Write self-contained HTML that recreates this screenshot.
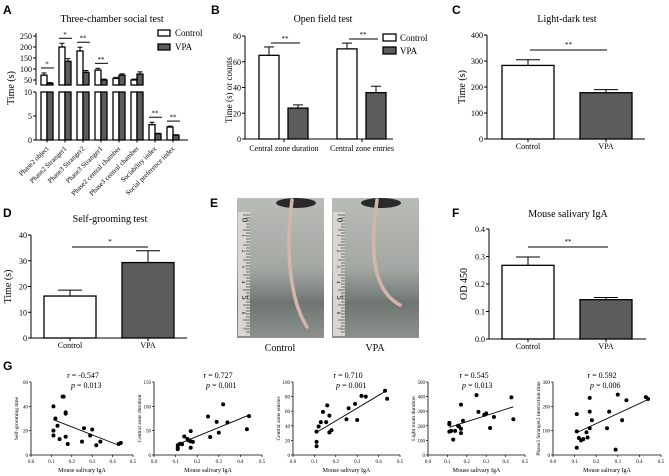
<!DOCTYPE html>
<html><head><meta charset="utf-8"><style>
html,body{margin:0;padding:0;background:#fff;}
svg{display:block;font-family:"Liberation Serif",serif;}
.pl{font-family:"Liberation Sans",sans-serif;font-weight:bold;font-size:12px;}
</style></head><body>
<svg id="fig" width="669" height="476" viewBox="0 0 669 476" xmlns="http://www.w3.org/2000/svg">
<defs>
<linearGradient id="bg1" x1="0" y1="0" x2="0" y2="1">
<stop offset="0" stop-color="#b9bcb7"/><stop offset="0.5" stop-color="#a4a8a3"/><stop offset="0.75" stop-color="#6f7672"/><stop offset="1" stop-color="#8d918d"/>
</linearGradient>
</defs>
<g id="root"></g>
</svg>
<script>
// ---- Panel A data ----
const aCats = ["Phase2 object","Phase2 Stranger1","Phase3 Stranger2","Phase3 Stranger1","Phase2 central chamber","Phase3 central chamber","Sociability index","Social preference index"];
const aCtrl = [72,200,182,95,57,50,3.2,2.7];
const aVpa = [35,135,85,50,72,77,1.3,1.0];
const aCtrlErr = [10,17,17,8,5,4,0.5,0.2];
const aVpaErr = [3,12,8,4,6,10,0.1,0.1];
const aSig = ["*","*","**","**","","","**","**"];
const aUpperTicks = [50,100,150,200,250];
const aLowerTicks = [0,5,10];
// ---- Panel B data ----
const bCats = ["Central zone duration","Central zone entries"];
const bCtrl = [65,70];
const bVpa = [24,36];
const bCtrlErr = [6.5,4.5];
const bVpaErr = [2.5,5];
const bTicks = [0,20,40,60,80];
// ---- Panel C ----
const cCats = ["Control","VPA"];
const cVals = [283,178];
const cErr = [22,12];
const cTicks = [0,100,200,300,400];
// ---- Panel D ----
const dCats = ["Control","VPA"];
const dVals = [16.3,29.3];
const dErr = [2.3,4.6];
const dTicks = [0,10,20,30,40];
// ---- Panel F ----
const fCats = ["Control","VPA"];
const fVals = [0.268,0.143];
const fErr = [0.03,0.008];
const fTicks = ["0.0","0.1","0.2","0.3","0.4"];
// ---- Panel G ----
const gX = [0.11,0.11,0.11,0.12,0.13,0.14,0.155,0.16,0.17,0.17,0.17,0.18,0.25,0.26,0.29,0.30,0.32,0.34,0.43,0.44];
const gY1 = [40,20,16,30,24,13,48,48,35,34,15,9,11,22,16,21,8,11,9,10];
const gY2 = [12,15,20,23,22,38,33,30,49,15,28,27,79,37,68,46,104,67,53,80];
const gY3 = [12,18,32,39,45,59,45,68,54,31,31,34,49,64,70,48,81,80,88,77];
const gY4 = [220,210,160,165,105,165,200,195,345,150,180,235,410,295,275,285,185,260,395,245];
const gY5 = [30,168,97,70,60,65,93,72,235,178,110,143,110,178,22,248,143,225,238,230];
const gFitX = [[0.11,0.43],[0.11,0.44],[0.11,0.43],[0.11,0.44],[0.11,0.44]];
const gFitY = [[29,8],[22,82],[31,87],[190,330],[92,228]];
const gR = ["r = -0.547","r = 0.727","r = 0.710","r = 0.545","r = 0.592"];
const gP = ["= 0.013","= 0.001","= 0.001","= 0.013","= 0.006"];
const gYTitles = ["Self-grooming time","Central zone duration","Central zone entries","Light room duration","Phase3 Stranger2 interaction time"];
const gYMax = [60,150,100,500,300];
const gYTicks = [[0,20,40,60],[0,50,100,150],[0,20,40,60,80,100],[0,100,200,300,400,500],[0,100,200,300]];
const gXTicks = ["0.0","0.1","0.2","0.3","0.4","0.5"];

const NS="http://www.w3.org/2000/svg";
const root=document.getElementById('root');
function el(tag,attrs,parent,txt){const e=document.createElementNS(NS,tag);for(const k in attrs)e.setAttribute(k,attrs[k]);if(txt!==undefined)e.textContent=txt;(parent||root).appendChild(e);return e;}
function grp(name){const g=el('g',{});


return g;}
function line(p,x1,y1,x2,y2,w){return el('line',{x1,y1,x2,y2,stroke:'#000','stroke-width':w||1},p);}
function txt(p,x,y,s,size,anchor,extra){const t=el('text',Object.assign({x,y,'font-size':size,'text-anchor':anchor||'middle',fill:'#000'},extra||{}),p,s);return t;}
const GRAY="#5c5c5c";
function bar(p,name,x,w,y0,y1,fill){const r=el('rect',{x,y:Math.min(y0,y1),width:w,height:Math.abs(y1-y0),fill,stroke:'#000','stroke-width':1.3},p);


return r;}
function err(p,cx,ytop,yerr,cap){line(p,cx,ytop,cx,yerr,1);line(p,cx-cap,yerr,cx+cap,yerr,1);}
function panelLabel(x,y,s){const t=el('text',{x,y,class:'pl'},root,s);

}

// ===== Panel A =====
(function(){
const g=grp('panel-a-three-chamber');
panelLabel(3,14,'A');
txt(g,112,22,'Three-chamber social test',10);
const ax=36, xEnd=188;
const yU=v=>80-(v-50)*0.22; const uBot=85;
const yL=v=>140-v*4.8; const lTop=92;
line(g,ax,33,ax,uBot,1);line(g,ax,lTop,ax,140,1);line(g,ax,140,xEnd,140,1);
aUpperTicks.forEach(t=>{line(g,ax-3,yU(t),ax,yU(t));txt(g,ax-4,yU(t)+3,String(t),8,'end');});
aLowerTicks.forEach(t=>{line(g,ax-3,yL(t),ax,yL(t));txt(g,ax-4,yL(t)+3,String(t),8,'end');});
const yl=txt(g,14,88,'Time (s)',10,'middle',{transform:'rotate(-90 14 88)'});

const step=(xEnd-ax-8)/aCats.length;
aCats.forEach((c,i)=>{
 const cx=ax+9+step*(i+0.5)-step/2+2;
 const bw=6;
 [[aCtrl,aCtrlErr,'#fff',-bw],[aVpa,aVpaErr,GRAY,0]].forEach(([vals,errs,fill,off],k)=>{
  const v=vals[i], x=cx+off;
  if(i<6){
   bar(g,'bar-'+(k?'vpa':'control')+'-'+(i+1)+'-lower',x,bw,140,lTop,fill);
   bar(g,'bar-'+(k?'vpa':'control')+'-'+(i+1),x,bw,uBot,yU(v),fill);
   err(g,x+bw/2,yU(v),yU(v+errs[i]),2.5);
  } else {
   bar(g,'bar-'+(k?'vpa':'control')+'-'+(i+1),x,bw,140,yL(v),fill);
   err(g,x+bw/2,yL(v),yL(v+errs[i]),2.5);
  }
 });
 if(aSig[i]){
  const top=i<6?yU(Math.max(aCtrl[i]+aCtrlErr[i],aVpa[i]+aVpaErr[i]))-5:yL(Math.max(aCtrl[i]+aCtrlErr[i],aVpa[i]+aVpaErr[i]))-5;
  line(g,cx-6,top,cx+7,top,1);txt(g,cx,top-1.5,aSig[i],7);
 }
 line(g,cx,140,cx,142.5,1);
 const lab=txt(g,cx+2,149,c,7,'end',{transform:`rotate(-45 ${cx+2} 149)`});
 
});
const lg=grp('legend');g.appendChild(lg);
el('rect',{x:158,y:30,width:12,height:6,fill:'#fff',stroke:'#000','stroke-width':1.3},lg);
txt(lg,175,36,'Control',9,'start');
el('rect',{x:158,y:44,width:12,height:6,fill:GRAY,stroke:'#000','stroke-width':1.3},lg);
txt(lg,175,50,'VPA',9,'start');
})();

// ===== Panel B =====
(function(){
const g=grp('panel-b-open-field');
panelLabel(211,14,'B');
txt(g,323,22,'Open field test',10);
const ax=245,y=v=>139-v*103/80;
line(g,ax,36,ax,139);line(g,ax,139,393,139);
bTicks.forEach(t=>{line(g,ax-3,y(t),ax,y(t));txt(g,ax-4,y(t)+3,String(t),8,'end');});
const yl=txt(g,232,90,'Time (s) or counts',9,'middle',{transform:'rotate(-90 232 90)'});

const centers=[284,362];
bCats.forEach((c,i)=>{
 const cx=centers[i];
 bar(g,'bar-control-'+(i+1),cx-25,20,139,y(bCtrl[i]),'#fff');err(g,cx-15,y(bCtrl[i]),y(bCtrl[i]+bCtrlErr[i]),5);
 bar(g,'bar-vpa-'+(i+1),cx+4,20,139,y(bVpa[i]),GRAY);err(g,cx+14,y(bVpa[i]),y(bVpa[i]+bVpaErr[i]),5);
 const syy=i==0?43:39;
 line(g,cx-13,syy,cx+16,syy);txt(g,cx+1,syy-2,'**',7);
 line(g,cx,139,cx,142);
 txt(g,cx,151,c,8);
});
const lg=grp('legend-b');g.appendChild(lg);
el('rect',{x:383,y:34,width:13,height:7,fill:'#fff',stroke:'#000','stroke-width':1.3},lg);
txt(lg,400,41,'Control',9,'start');
el('rect',{x:383,y:47,width:13,height:7,fill:GRAY,stroke:'#000','stroke-width':1.3},lg);
txt(lg,400,54,'VPA',9,'start');
})();

function twoBar(name,label,lx,ly,title,tx,ty,ax,top,bottom,xEnd,maxV,ticks,vals,errs,cats,ytitle,ytx,sigY,sigX1,sigX2,sig,barX){
 const g=grp(name);panelLabel(lx,ly,label);
 txt(g,tx,ty,title,10);
 const y=v=>bottom-v*(bottom-top)/maxV;
 line(g,ax,top,ax,bottom);line(g,ax,bottom,xEnd,bottom);
 ticks.forEach((t,i)=>{const v=maxV*i/(ticks.length-1);line(g,ax-3,y(v),ax,y(v));txt(g,ax-4,y(v)+3,String(t),8,'end');});
 const yl=txt(g,ytx,(top+bottom)/2,ytitle,10,'middle',{transform:`rotate(-90 ${ytx} ${(top+bottom)/2})`});
 
 cats.forEach((c,i)=>{
  const x=barX[i],w=52,cx=x+w/2;
  bar(g,'bar-'+c.toLowerCase(),x,w,bottom,y(vals[i]),i?GRAY:'#fff');
  err(g,cx,y(vals[i]),y(vals[i]+errs[i]),12);
  line(g,cx,bottom,cx,bottom+3);
  txt(g,cx,bottom+10,c,8);
 });
 line(g,sigX1,sigY,sigX2,sigY);txt(g,(sigX1+sigX2)/2,sigY-3,sig,7);
}
twoBar('panel-c-light-dark','C',452,14,'Light-dark test',567,22,487,35,139,645,400,cTicks,cVals,cErr,cCats,'Time (s)',465,50,530,607,'**',[502,580]);
twoBar('panel-d-self-grooming','D',3,217,'Self-grooming test',110,222,31,235,338,187,40,dTicks,dVals,dErr,dCats,'Time (s)',11,247,72,148,'*',[44,122]);
twoBar('panel-f-salivary-iga','F',452,217,'Mouse salivary IgA',568,217,489,229,339,646,0.4,fTicks,fVals,fErr,fCats,'OD 450',467,247,528,608,'**',[502,580]);

// ===== Panel E photos =====
(function(){
const g=grp('panel-e-tail-photos');panelLabel(210,207,'E');
[[237,'Control',[[292,200],[285,250],[290,300],[307,327]]],[332,'VPA',[[377,200],[370,250],[372,290],[400,305]]]].forEach(([x,lab,pts],k)=>{
 const pg=grp('photo-'+lab.toLowerCase());g.appendChild(pg);
 el('rect',{x,y:198,width:87,height:140,fill:'url(#bg1)'},pg);
 el('ellipse',{cx:pts[0][0]+4,cy:203,rx:20,ry:5,fill:'#2a2a2a'},pg);
 el('rect',{x:x+1,y:212,width:12,height:124,fill:'#d8d6cf'},pg);
 for(let t=0;t<40;t++){line(pg,x+13,215+t*3,x+(t%5==0?6:9),215+t*3,0.5);}
 for(let n=0;n<8;n++){txt(pg,x+5,220+n*15.5,String(n),n==0||n==5?8:5,'middle',{transform:`rotate(90 ${x+5} ${220+n*15.5})`});}
 const d=`M${pts[0][0]} ${pts[0][1]} C${pts[1][0]} ${pts[1][1]} ${pts[2][0]} ${pts[2][1]} ${pts[3][0]} ${pts[3][1]}`;
 el('path',{d,fill:'none',stroke:'#d4b5ab','stroke-width':3.5,'stroke-linecap':'round'},pg);
 txt(g,x+43,351,lab,10);
});
})();

// ===== Panel G scatter =====
(function(){
panelLabel(3,370,'G');
const ys=[gY1,gY2,gY3,gY4,gY5];
const axX=[31,154,293,428,553], axW=[102,108,107,97,108];
const centers=[83,218,348,474,602];
ys.forEach((Y,k)=>{
 const g=grp('scatter-'+(k+1));
 const x0=axX[k],w=axW[k],top=382,bot=455;
 const sx=v=>x0+v/0.5*w, sy=v=>bot-v/gYMax[k]*(bot-top);
 line(g,x0,top,x0,bot,0.8);line(g,x0,bot,x0+w,bot,0.8);
 gYTicks[k].forEach(t=>{line(g,x0-2,sy(t),x0,sy(t),0.7);txt(g,x0-3,sy(t)+2,String(t),5,'end');});
 gXTicks.forEach((t,i)=>{const xx=sx(i*0.1);line(g,xx,bot,xx,bot+2,0.7);txt(g,xx,bot+8,t,5);});
 txt(g,x0+w/2,bot+17,'Mouse salivary IgA',6);
 const yt=txt(g,x0-13,(top+bot)/2,gYTitles[k],5.5,'middle',{transform:`rotate(-90 ${x0-13} ${(top+bot)/2})`});
 
 Y.forEach((v,i)=>{const c=el('circle',{cx:sx(gX[i]),cy:sy(v),r:2,fill:'#000'},g);
  
  });
 const f=line(g,sx(gFitX[k][0]),sy(gFitY[k][0]),sx(gFitX[k][1]),sy(gFitY[k][1]),0.9);
 
 
 txt(g,centers[k],378,gR[k],8);
 const p=txt(g,centers[k]-12,388,'',8,'start');
 el('tspan',{'font-style':'italic'},p,'p');
 el('tspan',{},p,' '+gP[k]);
});
})();
</script>
</body></html>
